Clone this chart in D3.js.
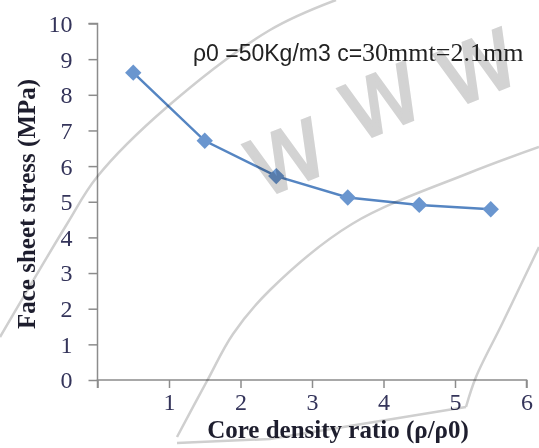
<!DOCTYPE html>
<html><head><meta charset="utf-8">
<script src="https://cdn.jsdelivr.net/npm/d3@7"></script>
<style>body{margin:0;background:#fff}svg{display:block}</style>
</head><body>
<script>
const densityRatio = [0.5, 1.5, 2.5, 3.5, 4.5, 5.5];
const stress = [8.62, 6.71, 5.72, 5.12, 4.91, 4.79];
const xTicks = [1, 2, 3, 4, 5, 6];
const yTicks = [0, 1, 2, 3, 4, 5, 6, 7, 8, 9, 10];
const annotationSans = "ρ0 =50Kg/m3 c=";
const annotationSerif = "30mmt=2.1mm";
const xTitle = "Core density ratio (ρ/ρ0)";
const yTitle = "Face sheet stress (MPa)";
const watermarkLetters = ["W", "W", "W"];

const W = 539, H = 448;
const svg = d3.select("body").append("svg").attr("width", W).attr("height", H);
const x = d3.scaleLinear().domain([0, 6]).range([97.5, 526.5]);
const y = d3.scaleLinear().domain([0, 10]).range([380, 23.5]);

const axisColor = "#8c8c8c";
const tickFont = "Liberation Serif, Times New Roman, serif";
const tickColor = "#34345a";

const gx = svg.append("g").attr("transform", `translate(0,${y(0)})`)
  .call(d3.axisBottom(x).tickValues([0, ...xTicks]).tickSize(8).tickFormat(d => d === 0 ? "" : d));
const gy = svg.append("g").attr("transform", `translate(${x(0)},0)`)
  .call(d3.axisLeft(y).tickValues(yTicks).tickSize(9).tickFormat(d3.format("d")));
[gx, gy].forEach(g => {
  g.select(".domain").attr("stroke", axisColor).attr("stroke-width", 1.5);
  g.selectAll(".tick line").attr("stroke", axisColor).attr("stroke-width", 1.5);
  g.selectAll("text").attr("font-family", tickFont).attr("font-size", 24).attr("fill", tickColor);
});
gy.select(".domain").attr("d", `M-9,${y(10)}H0V${y(0)}`);
gx.select(".domain").attr("d", `M${x(0)},8V0H${x(6)}V8`);
gx.selectAll("text").attr("y", 11).attr("dy", "0.8em");
gy.selectAll("text").attr("x", -25).attr("dy", "0.33em");

const line = d3.line().x((d, i) => x(densityRatio[i])).y(d => y(d));
svg.append("path").datum(stress).attr("d", line)
  .attr("fill", "none").attr("stroke", "#5585c2").attr("stroke-width", 2.5);
svg.selectAll(".pt").data(stress).join("path")
  .attr("transform", (d, i) => `translate(${x(densityRatio[i])},${y(d)})`)
  .attr("d", d3.symbol(d3.symbolDiamond2 || d3.symbolDiamond, 170)())
  .attr("fill", "#6a96cf");

const ann = svg.append("text").attr("x", 193).attr("y", 61).attr("fill", "#222");
ann.append("tspan").attr("font-family", "Liberation Sans, Arial, sans-serif").attr("font-size", 23).text(annotationSans);
ann.append("tspan").attr("font-family", tickFont).attr("font-size", 26).text(annotationSerif);

svg.append("text").attr("x", 338).attr("y", 438).attr("text-anchor", "middle")
  .attr("font-family", tickFont).attr("font-size", 25).attr("font-weight", "bold")
  .attr("fill", "#1e1e2e").text(xTitle);
svg.append("text").attr("transform", "translate(35,204) rotate(-90)").attr("text-anchor", "middle")
  .attr("font-family", tickFont).attr("font-size", 25).attr("font-weight", "bold")
  .attr("fill", "#1e1e2e").text(yTitle);

// faint watermark drawn on top, multiplied
const wm = svg.append("g").style("mix-blend-mode", "multiply");
const arcs = wm.append("g").attr("fill", "none").attr("stroke", "#cfcfcf").attr("stroke-width", 2.5);
const curve = d3.line().curve(d3.curveCatmullRom);
arcs.append("path").attr("d", curve([[0, 337], [67, 224], [97, 177], [167, 107], [270, 30], [336, 0]]));
arcs.append("path").attr("d", curve([[177, 437], [207, 381], [233, 334], [270, 290], [352, 224], [469, 173], [539, 147]]));
arcs.append("path").attr("d", d3.line()([[177, 443], [270, 439], [466, 407]]));
arcs.append("path").attr("d", curve([[466, 407], [476, 377], [502, 324], [539, 247]]));
const wmPos = [[287, 158], [382, 102], [478, 68]];
wm.selectAll(".wl").data(watermarkLetters).join("text")
  .attr("transform", (d, i) => `translate(${wmPos[i][0]},${wmPos[i][1]}) rotate(-22)`)
  .attr("text-anchor", "middle").attr("dy", "0.36em")
  .attr("font-family", "DejaVu Sans, sans-serif").attr("font-size", 78)
  .attr("fill", "#d3d3d3").attr("stroke", "#d3d3d3").attr("stroke-width", 3).text(d => d);
</script>
</body></html>
